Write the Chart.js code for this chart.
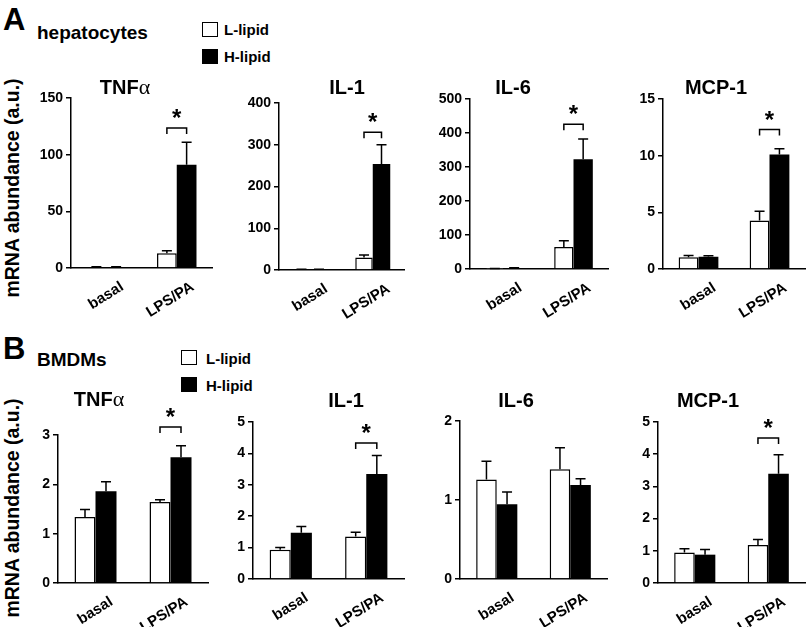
<!DOCTYPE html>
<html>
<head>
<meta charset="utf-8">
<script src="https://cdn.jsdelivr.net/npm/chart.js@4.4.0/dist/chart.umd.min.js"></script>
<style>
body { margin: 0; width: 807px; height: 627px; background: #fff; position: relative; overflow: hidden;
       font-family: 'Liberation Sans', Arial, sans-serif; font-weight: bold; color: #000; }
canvas { position: absolute; }
.lbl { position: absolute; white-space: nowrap; line-height: 1; }
.box { position: absolute; width: 16px; height: 15px; border: 1.5px solid #000; box-sizing: border-box; background: #fff; }
.box.dark { background: #000; }
.ylab { position: absolute; width: 260px; height: 22px; line-height: 22px; text-align: center;
        font-size: 19.5px; transform: rotate(-90deg); transform-origin: 50% 50%; }
</style>
</head>
<body>

<div class="lbl" style="left:3px;top:4px;font-size:31px">A</div>
<div class="lbl" style="left:37px;top:23px;font-size:19px">hepatocytes</div>
<div class="box" style="left:202px;top:22px"></div>
<div class="lbl" style="left:224px;top:22px;font-size:15px">L-lipid</div>
<div class="box dark" style="left:202px;top:49px"></div>
<div class="lbl" style="left:224px;top:49px;font-size:15px">H-lipid</div>
<div class="ylab" style="left:-118px;top:177px">mRNA abundance (a.u.)</div>

<div class="lbl" style="left:3px;top:333px;font-size:31px">B</div>
<div class="lbl" style="left:37px;top:350px;font-size:19px">BMDMs</div>
<div class="box" style="left:181px;top:350px"></div>
<div class="lbl" style="left:206px;top:351px;font-size:15px">L-lipid</div>
<div class="box dark" style="left:181px;top:377px"></div>
<div class="lbl" style="left:206px;top:378px;font-size:15px">H-lipid</div>
<div class="ylab" style="left:-118px;top:497px">mRNA abundance (a.u.)</div>

<script>
// ---- data ----
const categories = ['basal', 'LPS/PA'];
const genes = ['TNFα', 'IL-1', 'IL-6', 'MCP-1'];

// A: hepatocytes, values per gene as [basal, LPS/PA]
const hepL    = [[0.8, 13],  [1.5, 30],  [1, 65],    [1.03, 4.28]];
const hepLErr = [[0.3, 2.2], [0.5, 6],   [0.5, 18],  [0.17, 0.82]];
const hepH    = [[0.8, 91],  [1.5, 254], [3, 323],   [1.08, 10.1]];
const hepHErr = [[0.3, 20],  [0.5, 46],  [1, 59],    [0.1, 0.5]];
const hepYMax  = [150, 400, 500, 15];
const hepYStep = [50, 100, 100, 5];
const hepSig   = [123.5, 330, 426, 12.3];   // bracket level over LPS/PA

// B: BMDMs
const bmdmL    = [[1.34, 1.64], [0.93, 1.35], [1.26, 1.39],  [0.95, 1.18]];
const bmdmLErr = [[0.15, 0.05], [0.07, 0.14], [0.23, 0.27],  [0.11, 0.17]];
const bmdmH    = [[1.86, 2.55], [1.47, 3.34], [0.945, 1.19], [0.88, 3.39]];
const bmdmHErr = [[0.19, 0.23], [0.2, 0.59],  [0.155, 0.08], [0.16, 0.59]];
const bmdmYMax  = [3, 5, 2, 5];
const bmdmYStep = [1, 1, 1, 1];
const bmdmSig   = [3.16, 4.33, null, 4.5];

// ---- layout: plot box [axisLeft, axisRight, top, bottom] and title centre ----
const boxes = [
    [71, 212, 98, 268], [279, 404, 103, 270], [470, 608, 99, 269], [663, 805, 99, 269],
    [58, 208, 435, 583], [253, 404, 422, 579], [460, 607, 421, 579], [658, 805, 422, 583]
];
const titlePos = [
    [125, 87], [347, 87], [513, 87], [716, 87],
    [99, 399], [346, 400], [516, 400], [708, 400]
];

const FONT = "'Liberation Sans', Arial, sans-serif";

// error bars (upward only)
const errorBars = {
    id: 'errorBars',
    afterDatasetsDraw(chart) {
        const ctx = chart.ctx, y = chart.scales.y;
        ctx.save();
        ctx.strokeStyle = '#000';
        ctx.lineWidth = 1.5;
        chart.data.datasets.forEach((ds, di) => {
            chart.getDatasetMeta(di).data.forEach((bar, i) => {
                const top = y.getPixelForValue(ds.data[i] + ds.errors[i]);
                ctx.beginPath();
                ctx.moveTo(bar.x, bar.y);
                ctx.lineTo(bar.x, top);
                ctx.moveTo(bar.x - 5, top);
                ctx.lineTo(bar.x + 5, top);
                ctx.stroke();
            });
        });
        ctx.restore();
    }
};

// significance bracket + asterisk over LPS/PA
const sigBracket = {
    id: 'sigBracket',
    afterDatasetsDraw(chart, args, opts) {
        if (opts.level == null) return;
        const ctx = chart.ctx;
        const a = chart.getDatasetMeta(0).data[1], b = chart.getDatasetMeta(1).data[1];
        const y = chart.scales.y.getPixelForValue(opts.level);
        ctx.save();
        ctx.strokeStyle = '#000';
        ctx.lineWidth = 1.5;
        ctx.beginPath();
        ctx.moveTo(a.x, y + 6);
        ctx.lineTo(a.x, y);
        ctx.lineTo(b.x, y);
        ctx.lineTo(b.x, y + 6);
        ctx.stroke();
        ctx.fillStyle = '#000';
        ctx.font = 'bold 24px ' + FONT;
        ctx.textAlign = 'center';
        ctx.textBaseline = 'alphabetic';
        ctx.fillText('*', (a.x + b.x) / 2, y - 2);
        ctx.restore();
    }
};

// gene title, Greek letter in a serif face like the original
const panelTitle = {
    id: 'panelTitle',
    afterDraw(chart, args, opts) {
        const ctx = chart.ctx;
        const text = opts.text;
        const greek = text.endsWith('α');
        const main = greek ? text.slice(0, -1) : text;
        ctx.save();
        ctx.fillStyle = '#000';
        ctx.textBaseline = 'alphabetic';
        ctx.textAlign = 'left';
        ctx.font = 'bold 20px ' + FONT;
        const w1 = ctx.measureText(main).width;
        let w2 = 0;
        if (greek) {
            ctx.font = "22px 'Liberation Serif', serif";
            w2 = ctx.measureText('α').width;
        }
        const x0 = opts.x - (w1 + w2) / 2, base = opts.y + 7;
        ctx.font = 'bold 20px ' + FONT;
        ctx.fillText(main, x0, base);
        if (greek) {
            ctx.font = "22px 'Liberation Serif', serif";
            ctx.fillText('α', x0 + w1, base);
        }
        ctx.restore();
    }
};

function makeChart(idx, title, L, Lerr, H, Herr, yMax, yStep, sig) {
    const [x0, x1, y0, y1] = boxes[idx];
    const yW = 52, padTop = 62, xH = 52, padR = 2;
    const left = x0 - yW, top = y0 - padTop;
    const w = x1 - x0 + yW + padR, h = y1 - y0 + padTop + xH;
    const cv = document.createElement('canvas');
    cv.width = w; cv.height = h;
    cv.style.left = left + 'px'; cv.style.top = top + 'px';
    cv.style.width = w + 'px'; cv.style.height = h + 'px';
    document.body.appendChild(cv);

    new Chart(cv, {
        type: 'bar',
        data: {
            labels: categories,
            datasets: [
                { label: 'L-lipid', data: L, errors: Lerr, backgroundColor: '#fff', borderColor: '#000', borderWidth: 1.5 },
                { label: 'H-lipid', data: H, errors: Herr, backgroundColor: '#000', borderColor: '#000', borderWidth: 0 }
            ]
        },
        options: {
            responsive: false,
            animation: false,
            layout: { padding: { top: padTop, right: padR, left: 0, bottom: 0 } },
            datasets: { bar: { barPercentage: 1, categoryPercentage: 0.56 } },
            plugins: {
                legend: { display: false },
                tooltip: { enabled: false },
                panelTitle: { text: title, x: titlePos[idx][0] - left, y: titlePos[idx][1] - top },
                sigBracket: { level: sig }
            },
            scales: {
                x: {
                    grid: { display: false },
                    border: { display: true, color: '#000', width: 1.5 },
                    ticks: {
                        color: '#000', font: { family: FONT, size: 15, weight: 'bold' },
                        minRotation: 32, maxRotation: 32, labelOffset: 16, padding: 2, autoSkip: false
                    },
                    afterFit: s => { s.height = xH; }
                },
                y: {
                    min: 0, max: yMax,
                    grid: { drawOnChartArea: false, drawTicks: true, tickLength: 5, color: '#000', lineWidth: 1.5 },
                    border: { display: true, color: '#000', width: 1.5 },
                    ticks: { stepSize: yStep, color: '#000', padding: 3, font: { family: FONT, size: 14, weight: 'bold' } },
                    afterFit: s => { s.width = yW; }
                }
            }
        },
        plugins: [errorBars, sigBracket, panelTitle]
    });
}

genes.forEach((g, i) => {
    makeChart(i, g, hepL[i], hepLErr[i], hepH[i], hepHErr[i], hepYMax[i], hepYStep[i], hepSig[i]);
    makeChart(i + 4, g, bmdmL[i], bmdmLErr[i], bmdmH[i], bmdmHErr[i], bmdmYMax[i], bmdmYStep[i], bmdmSig[i]);
});
</script>
</body>
</html>
